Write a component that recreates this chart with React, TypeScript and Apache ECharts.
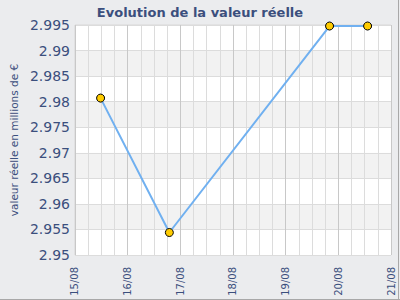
import React, { useEffect, useRef } from "react";
import * as echarts from "echarts";

const DAY = 86400000;
const dates = ["2012-08-15T11:40:00Z", "2012-08-16T19:00:00Z", "2012-08-19T20:00:00Z", "2012-08-20T13:20:00Z"];
const values = [2.9807, 2.9544, 2.9948, 2.9948];
const xMin = "2012-08-15T00:00:00Z";
const xMax = "2012-08-21T00:00:00Z";
const titleText = "Evolution de la valeur réelle";
const yAxisName = "valeur réelle en millions de €";

const TXT = "#3b4f7d";

export default function App() {
  const ref = useRef<HTMLDivElement>(null);
  useEffect(() => {
    const chart = echarts.init(ref.current!, null, { renderer: "svg" });
    const fmt = (v: number) => {
      const d = new Date(v);
      const dd = String(d.getUTCDate()).padStart(2, "0");
      const mm = String(d.getUTCMonth() + 1).padStart(2, "0");
      return dd + "/" + mm;
    };
    chart.setOption({
      animation: false,
      backgroundColor: "#ebecee",
      title: {
        text: titleText,
        left: "center",
        top: 1,
        textStyle: { fontFamily: "DejaVu Sans", fontSize: 13, fontWeight: "bold", color: TXT },
      },
      grid: { left: 41, right: 9, top: 25, bottom: 45, show: true, backgroundColor: "#ffffff", borderColor: "#d8d8d8", borderWidth: 1 },
      xAxis: {
        type: "value",
        min: Date.parse(xMin),
        max: Date.parse(xMax),
        interval: DAY,
        axisLine: { show: false },
        axisTick: { show: false },
        axisLabel: {
          formatter: fmt,
          rotate: 90,
          margin: 12,
          fontFamily: "DejaVu Sans",
          fontSize: 10,
          color: TXT,
        },
        splitLine: { show: true, lineStyle: { color: "#c8c8c8", width: 1 } },
        minorTick: { show: false, splitNumber: 4 },
        minorSplitLine: { show: true, lineStyle: { color: "#dcdcdc", width: 1 } },
      },
      yAxis: {
        type: "value",
        min: 2.95,
        max: 2.995,
        interval: 0.005,
        name: yAxisName,
        nameLocation: "middle",
        nameGap: 35,
        nameTextStyle: { fontFamily: "DejaVu Sans", fontSize: 10.5, color: TXT },
        axisLine: { show: false },
        axisTick: { show: false },
        axisLabel: {
          formatter: (v: number) => String(parseFloat(v.toFixed(3))),
          margin: 5,
          fontFamily: "DejaVu Sans",
          fontSize: 14,
          color: TXT,
        },
        splitLine: { show: true, lineStyle: { color: "#dcdcdc", width: 1 } },
        splitArea: { show: true, areaStyle: { color: ["#ffffff", "#f2f2f2"] } },
      },
      graphic: [
        { type: "line", shape: { x1: 398.5, y1: 0, x2: 398.5, y2: 300 }, style: { stroke: "#a8a8a8", lineWidth: 1 } },
        { type: "line", shape: { x1: 0, y1: 299.5, x2: 400, y2: 299.5 }, style: { stroke: "#a8a8a8", lineWidth: 1 } },
      ],
      series: [
        {
          type: "line",
          data: dates.map((d, i) => [Date.parse(d), values[i]]),
          symbol: "circle",
          symbolSize: 8,
          lineStyle: { color: "#70b0f0", width: 2 },
          itemStyle: { color: "#ffcc00", borderColor: "#000000", borderWidth: 1 },
        },
      ],
    });
    return () => chart.dispose();
  }, []);
  return <div ref={ref} style={{ width: 400, height: 300, position: "absolute", left: 0, top: 0 }} />;
}
